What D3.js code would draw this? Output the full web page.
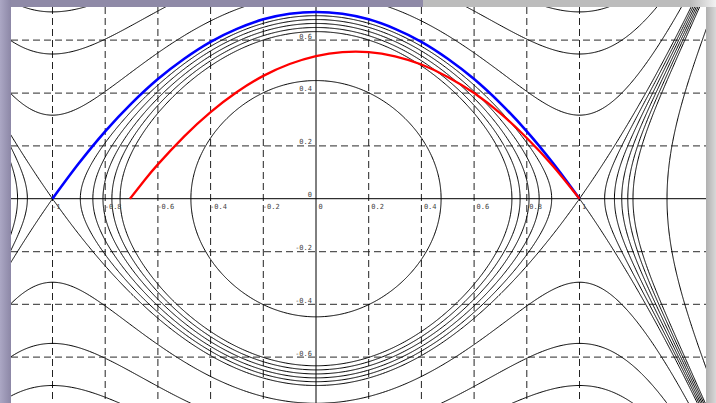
<!DOCTYPE html>
<html>
<head>
<meta charset="utf-8">
<script src="https://d3js.org/d3.v7.min.js"></script>
<style>
  body { margin: 0; background: #fff; }
  svg { display: block; }
  .tick text { font-family: 'DejaVu Sans Mono', monospace; font-size: 7px; fill: #444; }
  .domain { display: none; }
</style>
</head>
<body>
<svg id="chart" width="716" height="403"></svg>
<script>
// level values of H(x,y) = y^2/2 + x^2/2 - x^4/4
const levels = [0.1, 0.2, 0.21, 0.22, 0.23, 0.24, 0.25, 0.3, 0.4, 0.5];

const xTicks = [-1, -0.8, -0.6, -0.4, -0.2, 0, 0.2, 0.4, 0.6, 0.8, 1];
const yTicks = [-0.6, -0.4, -0.2, 0, 0.2, 0.4, 0.6];

// blue separatrix (upper half)
const blueX = [-1, -0.9, -0.8, -0.7, -0.6, -0.5, -0.4, -0.3, -0.2, -0.1, 0, 0.1, 0.2, 0.3, 0.4, 0.5, 0.6, 0.7, 0.8, 0.9, 1];
const blueY = [0, 0.134, 0.255, 0.361, 0.453, 0.530, 0.594, 0.643, 0.679, 0.700, 0.707, 0.700, 0.679, 0.643, 0.594, 0.530, 0.453, 0.361, 0.255, 0.134, 0];

// red trajectory
const redX = [-0.706, -0.65, -0.6, -0.5, -0.4, -0.3, -0.2, -0.1, 0, 0.1, 0.2, 0.3, 0.4, 0.5, 0.6, 0.7, 0.8, 0.9, 1.0];
const redY = [0, 0.071, 0.130, 0.236, 0.328, 0.404, 0.465, 0.510, 0.540, 0.555, 0.555, 0.539, 0.508, 0.461, 0.400, 0.323, 0.230, 0.123, 0];

const W = 716, H = 403;
const plot = {left: 11, top: 7, right: 706, bottom: 403};

const svg = d3.select('#chart');

const sx = d3.scaleLinear().domain([-1, 1]).range([52.5, 579.5]);
const sy = d3.scaleLinear().domain([0.6, -0.6]).range([40.2, 357.2]);

svg.append('defs').append('clipPath').attr('id', 'clip')
  .append('rect')
    .attr('x', plot.left).attr('y', plot.top)
    .attr('width', plot.right - plot.left).attr('height', plot.bottom - plot.top);

svg.append('rect')
  .attr('x', 0).attr('y', 0).attr('width', W).attr('height', H)
  .style('fill', '#fff');

const g = svg.append('g').attr('clip-path', 'url(#clip)');

// dashed grid
g.selectAll('line.hgrid')
  .data(yTicks.filter(d => d !== 0))
  .enter().append('line')
    .attr('class', 'hgrid')
    .attr('x1', plot.left).attr('x2', plot.right)
    .attr('y1', d => sy(d)).attr('y2', d => sy(d))
    .style('stroke', '#555').style('stroke-width', 1.3)
    .style('stroke-dasharray', '7,4');

g.selectAll('line.vgrid')
  .data(xTicks.filter(d => d !== 0))
  .enter().append('line')
    .attr('class', 'vgrid')
    .attr('y1', plot.top).attr('y2', plot.bottom)
    .attr('x1', d => sx(d)).attr('x2', d => sx(d))
    .style('stroke', '#222').style('stroke-width', 1)
    .style('stroke-dasharray', '7,4');

// axes lines
g.append('line')
  .attr('x1', plot.left).attr('x2', plot.right)
  .attr('y1', sy(0)).attr('y2', sy(0))
  .style('stroke', '#000').style('stroke-width', 1);
g.append('line')
  .attr('y1', plot.top).attr('y2', plot.bottom)
  .attr('x1', sx(0)).attr('x2', sx(0))
  .style('stroke', '#000').style('stroke-width', 1);

// energy field on a grid, contoured by d3
const step = 0.004, gx0 = -1.202, gy0 = -0.802;
const nx = 691, ny = 401;
const energy = (x, y) => y * y / 2 + x * x / 2 - x * x * x * x / 4;
const field = new Float64Array(nx * ny);
for (let j = 0; j < ny; j++) {
  for (let i = 0; i < nx; i++) {
    field[i + j * nx] = energy(gx0 + i * step, gy0 + j * step);
  }
}

const contours = d3.contours().size([nx, ny]).thresholds(levels)(field);

const proj = d3.geoTransform({
  point: function(px, py) {
    this.stream.point(sx(gx0 + (px - 0.5) * step), sy(gy0 + (py - 0.5) * step));
  }
});

g.selectAll('path.level')
  .data(contours)
  .enter().append('path')
    .attr('class', 'level')
    .attr('d', d3.geoPath(proj))
    .style('fill', 'none')
    .style('stroke', '#000')
    .style('stroke-width', 1);

const line = d3.line()
  .x(d => sx(d[0]))
  .y(d => sy(d[1]));

g.append('path')
  .datum(blueX.map((x, i) => [x, blueY[i]]))
  .attr('d', line.curve(d3.curveCatmullRom))
  .style('fill', 'none').style('stroke', '#0000ff').style('stroke-width', 2.6);

g.append('path')
  .datum(redX.map((x, i) => [x, redY[i]]))
  .attr('d', line.curve(d3.curveNatural))
  .style('fill', 'none').style('stroke', '#ff0000').style('stroke-width', 2.3);

// tick labels sitting beside the axes
const fmt = d => d === 0 ? '0' : d3.format('.1~f')(d).replace('\u2212', '-');

const xAxis = g.append('g')
  .attr('transform', `translate(0,${sy(0)})`)
  .call(d3.axisBottom(sx).tickValues(xTicks).tickSize(0).tickPadding(5).tickFormat(fmt));
xAxis.selectAll('.tick text')
  .attr('text-anchor', 'start')
  .attr('x', d => d < 0 ? -1 : 2);

const yAxis = g.append('g')
  .attr('transform', `translate(${sx(0)},0)`)
  .call(d3.axisLeft(sy).tickValues(yTicks).tickSize(0).tickPadding(4).tickFormat(fmt));
yAxis.selectAll('.tick text')
  .attr('dy', '-0.3em');

// window frame around the plot
const defs = svg.select('defs');
const lg = defs.append('linearGradient').attr('id', 'leftbar').attr('x1', 0).attr('x2', 1);
lg.append('stop').attr('offset', '0%').attr('stop-color', '#aba7c4');
lg.append('stop').attr('offset', '100%').attr('stop-color', '#8c87a6');
const rg = defs.append('linearGradient').attr('id', 'rightbar').attr('x1', 0).attr('x2', 1);
rg.append('stop').attr('offset', '0%').attr('stop-color', '#b0b0b0');
rg.append('stop').attr('offset', '100%').attr('stop-color', '#d8d8d8');
const tg = defs.append('linearGradient').attr('id', 'topright').attr('x1', 0).attr('x2', 1);
tg.append('stop').attr('offset', '0%').attr('stop-color', '#bbbbbb');
tg.append('stop').attr('offset', '100%').attr('stop-color', '#f2f2f2');

svg.append('rect').attr('x', 0).attr('y', 0).attr('width', 423).attr('height', plot.top)
  .style('fill', '#8f8aa7');
svg.append('rect').attr('x', 423).attr('y', 0).attr('width', 267).attr('height', plot.top)
  .style('fill', '#bcbcbc');
svg.append('rect').attr('x', 690).attr('y', 0).attr('width', 26).attr('height', plot.top)
  .style('fill', 'url(#topright)');
svg.append('rect').attr('x', 0).attr('y', 0).attr('width', plot.left).attr('height', H)
  .style('fill', 'url(#leftbar)');
svg.append('rect').attr('x', plot.right).attr('y', plot.top).attr('width', W - plot.right).attr('height', H - plot.top)
  .style('fill', 'url(#rightbar)');
</script>
</body>
</html>
